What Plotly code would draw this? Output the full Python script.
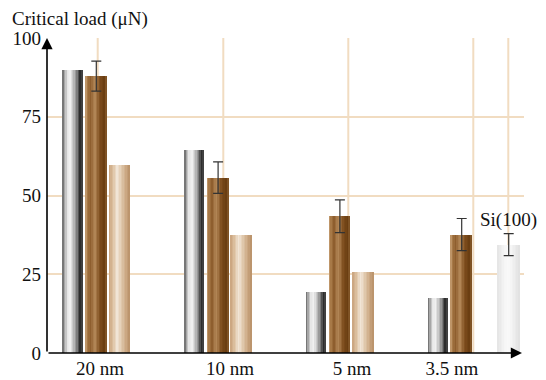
import plotly.graph_objects as go

# ---------------- data ----------------
categories = ["20 nm", "10 nm", "5 nm", "3.5 nm"]
gray_vals = [89.8, 64.5, 19.4, 17.6]
brown_vals = [87.9, 55.7, 43.4, 37.6]
brown_err = [4.75, 5.0, 5.2, 5.1]
tan_vals = [59.6, 37.6, 25.6, None]
si_label = "Si(100)"
si_val = [34.4]
si_err = [3.5]
y_tickvals = [0, 25, 50, 75, 100]
y_title = "Critical load (μN)"

# ---------------- layout geometry ----------------
W, H = 546, 380
L, R, T, B = 47, 22, 38, 27
PX = 121.8            # pixels per group step
C0 = 96.3             # pixel of first group centre
def u(px):            # pixel -> x-axis units
    return (px - C0) / PX
X0 = u(L)
X1 = u(W - R)
slot = 23.5 / PX
FONT = "Liberation Serif"
GRID = "#f1dcc1"

gray_prof = [(0, "#5a5a5a"), (0.08, "#9a9a9a"), (0.25, "#e6e6e6"), (0.4, "#f0f0f0"),
             (0.6, "#b8b8b8"), (0.78, "#707070"), (0.88, "#2a2a2a"), (1.0, "#4a4a4a")]
brown_prof = [(0, "#caa47a"), (0.1, "#a87a48"), (0.25, "#8e5e2e"), (0.45, "#b48858"),
              (0.7, "#7c4c1c"), (0.9, "#6a3e12"), (1.0, "#8a5e30")]
tan_prof = [(0, "#c8a27c"), (0.2, "#dcc0a0"), (0.4, "#f2e6d8"), (0.6, "#e0c8ac"),
            (0.85, "#c8a47e"), (1.0, "#b89068")]
si_prof = [(0, "#e4e4e4"), (0.3, "#f5f5f5"), (0.5, "#fafafa"), (0.8, "#ebebeb"), (1.0, "#e0e0e0")]


def h2r(h):
    h = h.lstrip("#")
    return [int(h[i:i + 2], 16) for i in (0, 2, 4)]


def interp(prof, t):
    for (p0, c0), (p1, c1) in zip(prof[:-1], prof[1:]):
        if p0 <= t <= p1:
            f = (t - p0) / (p1 - p0) if p1 > p0 else 0
            a, b = h2r(c0), h2r(c1)
            return "rgb(%d,%d,%d)" % tuple(round(a[i] + (b[i] - a[i]) * f) for i in range(3))
    return prof[-1][1]


fig = go.Figure()


def add_bars(xs, ys, width_px, prof, n=14):
    pairs = [(x, y) for x, y in zip(xs, ys) if y is not None]
    xs = [p[0] for p in pairs]
    ys = [p[1] for p in pairs]
    w = width_px / PX
    sw = w / n
    for k in range(n):
        col = interp(prof, (k + 0.5) / n)
        fig.add_trace(go.Bar(
            x=[x - w / 2 + (k + 0.5) * sw for x in xs], y=ys,
            width=sw * 1.3 if k < n - 1 else sw,
            marker=dict(color=col, line=dict(width=0)),
            showlegend=False, hoverinfo="skip"))


idx = list(range(len(categories)))
add_bars([i - slot for i in idx], gray_vals, 19.5, gray_prof)
add_bars([i for i in idx], brown_vals, 21, brown_prof)
add_bars([i + slot for i in idx], tan_vals, 21, tan_prof)
si_x = [idx[-1] + 2 * slot]
add_bars(si_x, si_val, 22, si_prof)

# error bars
fig.add_trace(go.Scatter(
    x=[i for i in idx] + si_x, y=brown_vals + si_val, mode="markers",
    marker=dict(size=1, color="rgba(0,0,0,0)"),
    error_y=dict(type="data", array=brown_err + si_err, color="#333333",
                 thickness=1.2, width=5),
    showlegend=False, hoverinfo="skip"))

# vertical grid lines
for gx in [97.7, 223.3, 348.3, 473.3, 508.3]:
    fig.add_shape(type="line", xref="x", yref="y", x0=u(gx), x1=u(gx), y0=0, y1=100,
                  line=dict(color=GRID, width=2), layer="below")

label_px = [100, 230, 352, 452]
annotations = [
    # y axis with arrow
    dict(x=X0, y=100, ax=X0, ay=0, xref="x", yref="y", axref="x", ayref="y",
         text="", showarrow=True, arrowhead=2, arrowsize=1.4, arrowwidth=1.6,
         arrowcolor="black", standoff=0),
    # x axis with arrow
    dict(x=u(522), y=0, ax=X0, ay=0, xref="x", yref="y", axref="x", ayref="y",
         text="", showarrow=True, arrowhead=2, arrowsize=1.4, arrowwidth=1.6,
         arrowcolor="black", standoff=0),
    dict(x=(10 - L) / (W - L - R), y=(H - B - 19) / (H - T - B), xref="paper", yref="paper",
         xanchor="left", yanchor="middle", text=y_title, showarrow=False,
         font=dict(family=FONT, size=19, color="#111")),
    dict(x=si_x[0], y=si_val[0] + si_err[0], xref="x", yref="y", xanchor="center",
         yanchor="bottom", yshift=1, text=si_label, showarrow=False,
         font=dict(family=FONT, size=19, color="#111")),
]

fig.update_layout(
    width=W, height=H, margin=dict(l=L, r=R, t=T, b=B, autoexpand=False),
    paper_bgcolor="white", plot_bgcolor="white",
    barmode="overlay", bargap=0,
    font=dict(family=FONT, size=19, color="#111"),
    annotations=annotations,
    xaxis=dict(range=[X0, X1], showgrid=False, zeroline=False, showline=False,
               tickmode="array", tickvals=[u(p) for p in label_px], ticktext=categories,
               ticks="", ticklabelstandoff=2, automargin=False, fixedrange=True,
               tickfont=dict(family=FONT, size=19, color="#111")),
    yaxis=dict(range=[0, 100], tickmode="array", tickvals=y_tickvals,
               showgrid=True, gridcolor=GRID, gridwidth=2, zeroline=False, showline=False,
               ticks="", ticklabelstandoff=5, automargin=False, fixedrange=True,
               tickfont=dict(family=FONT, size=19, color="#111")),
)

fig.write_html("out.html", config={"displayModeBar": False})
